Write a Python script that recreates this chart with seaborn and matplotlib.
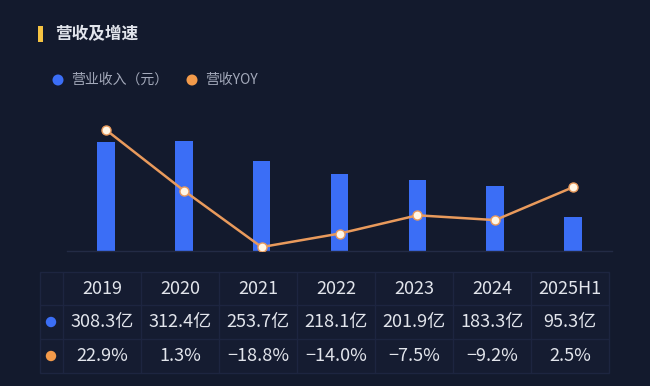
import matplotlib
matplotlib.use("Agg")
import matplotlib.pyplot as plt
import seaborn as sns
import numpy as np
import pandas as pd
from matplotlib.patches import Rectangle, Circle

years = ["2019", "2020", "2021", "2022", "2023", "2024", "2025H1"]
revenue = [308.3, 312.4, 253.7, 218.1, 201.9, 183.3, 95.3]   # 亿元
yoy = [22.9, 1.3, -18.8, -14.0, -7.5, -9.2, 2.5]             # %
revenue_labels = ["308.3亿", "312.4亿", "253.7亿", "218.1亿", "201.9亿", "183.3亿", "95.3亿"]
yoy_labels = ["22.9%", "1.3%", "−18.8%", "−14.0%", "−7.5%", "−9.2%", "2.5%"]
title = "营收及增速"
legend_labels = ["营业收入（元）", "营收YOY"]

BG = "#131a2d"
BLUE = "#3b6ef6"
ORANGE = "#e99a5c"
DOT_ORANGE = "#f39a4a"
TEXT = "#e2e5ec"
LEGEND_TEXT = "#a3a9ba"
CELL = "#151c31"
GRID = "#1d2540"

sns.set_theme(style="dark")
plt.rcParams['font.family'] = ['Noto Sans CJK SC', 'DejaVu Sans']

W, H = 650, 386
fig = plt.figure(figsize=(6.5, 3.86), dpi=100, facecolor=BG)

# overlay axes in pixel coordinates for title, legend and table
ov = fig.add_axes([0, 0, 1, 1], zorder=0)
ov.set_xlim(0, W)
ov.set_ylim(H, 0)
ov.axis("off")
ov.set_facecolor("none")

# title
ov.add_patch(Rectangle((38, 26), 5, 16, color="#f5c342", lw=0))
ov.text(55, 34, title, color=TEXT, fontsize=12, fontweight="bold", va="center", ha="left")

# legend
ov.add_patch(Circle((58, 80), 5.5, color=BLUE, lw=0))
ov.text(71, 80, legend_labels[0], color=LEGEND_TEXT, fontsize=10, va="center", ha="left")
ov.add_patch(Circle((192, 80), 5.5, color=DOT_ORANGE, lw=0))
ov.text(205, 80, legend_labels[1], color=LEGEND_TEXT, fontsize=10, va="center", ha="left")

# table
left, first_w, col_w = 40, 23, 78
row_edges = [272, 305, 339, 373]
ncol = len(years)
right = left + first_w + col_w * ncol
ov.add_patch(Rectangle((left, row_edges[0]), right - left, row_edges[-1] - row_edges[0],
                       facecolor=CELL, edgecolor=GRID, lw=1.0))
for r in row_edges[1:-1]:
    ov.plot([left, right], [r, r], color=GRID, lw=1.0)
xs_edges = [left + first_w + col_w * k for k in range(ncol)]
for xe in xs_edges:
    ov.plot([xe, xe], [row_edges[0], row_edges[-1]], color=GRID, lw=1.0)
centers_y = [(row_edges[i] + row_edges[i + 1]) / 2 for i in range(3)]
for i, (yr, rv, yy) in enumerate(zip(years, revenue_labels, yoy_labels)):
    cx = left + first_w + col_w * i + col_w / 2
    ov.text(cx, centers_y[0], yr, color=TEXT, fontsize=13, ha="center", va="center")
    ov.text(cx, centers_y[1], rv, color=TEXT, fontsize=13, ha="center", va="center")
    ov.text(cx, centers_y[2], yy, color=TEXT, fontsize=13, ha="center", va="center")
ov.add_patch(Circle((51, centers_y[1]), 5.2, color=BLUE, lw=0))
ov.add_patch(Circle((51, centers_y[2]), 5.2, color=DOT_ORANGE, lw=0))

# main chart
ax_l, ax_r, ax_b, ax_t = 67, 612, 251, 120
ax = fig.add_axes([ax_l / W, (H - ax_b) / H, (ax_r - ax_l) / W, (ax_b - ax_t) / H], zorder=1)
ax.set_facecolor("none")
df = pd.DataFrame({"year": years, "revenue": revenue, "yoy": yoy, "pos": np.arange(len(years))})
sns.barplot(data=df, x="year", y="revenue", color=BLUE, saturation=1, width=0.225,
            linewidth=0, edgecolor=BLUE, ax=ax)
ax.set_xlim(-0.5, len(years) - 0.5)
ax.set_ylim(0, 371)
ax.set_xticks([])
ax.set_yticks([])
ax.set_xlabel("")
ax.set_ylabel("")
for s in ["top", "left", "right"]:
    ax.spines[s].set_visible(False)
ax.spines["bottom"].set_visible(True)
ax.spines["bottom"].set_color("#232b45")
ax.spines["bottom"].set_linewidth(1.0)

ax2 = ax.twinx()
sns.lineplot(data=df, x="pos", y="yoy", color=ORANGE, lw=1.8, marker="o", markersize=6.5,
             markerfacecolor="#fff6e6", markeredgecolor=ORANGE, markeredgewidth=1.0, ax=ax2)
ax2.set_ylim(-20.2, 26.4)
ax2.set_xlim(-0.5, len(years) - 0.5)
ax2.set_yticks([])
ax2.set_xlabel("")
ax2.set_ylabel("")
for s in ["top", "left", "right", "bottom"]:
    ax2.spines[s].set_visible(False)
ax2.set_facecolor("none")

fig.savefig("out.png", dpi=100, facecolor=BG)
